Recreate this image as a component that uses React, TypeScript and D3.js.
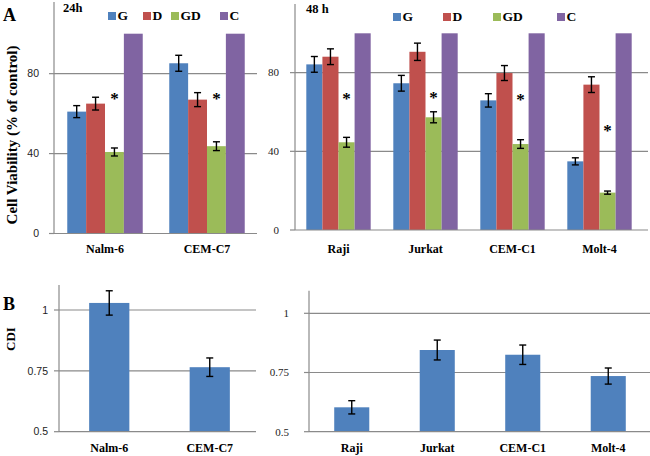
import React from "react";
import * as d3 from "d3";

const series = ["G", "D", "GD", "C"];
const colors = ["#4F81BD", "#C0504D", "#9BBB59", "#8064A2"];

const cats24 = ["Nalm-6", "CEM-C7"];
const vals24 = [
  [61, 65, 40.8, 100],
  [85.2, 67, 43.7, 100],
];
const errs24 = [
  [3, 3.2, 2, 0],
  [4, 3.5, 2.2, 0],
];
const star24 = [69.5, 69.5];

const cats48 = ["Raji", "Jurkat", "CEM-C1", "Molt-4"];
const vals48 = [
  [84.2, 88.1, 44.6, 100],
  [74.6, 90.6, 57.3, 100],
  [65.9, 79.8, 43.7, 100],
  [34.9, 73.9, 19, 100],
];
const errs48 = [
  [4, 4, 2.5, 0],
  [4, 4.4, 2.8, 0],
  [3.4, 3.8, 2.2, 0],
  [1.8, 4, 0.8, 0],
];
const star48 = [68.5, 69, 68.2, 52.5];

const ticksA = [0, 40, 80];
const ticksB = [0.5, 0.75, 1];
const tickLabelsB = ["0.5", "0.75", "1"];

const cdiCatsL = ["Nalm-6", "CEM-C7"];
const cdiValsL = [1.029, 0.765];
const cdiErrsL = [0.05, 0.038];

const cdiCatsR = ["Raji", "Jurkat", "CEM-C1", "Molt-4"];
const cdiValsR = [0.603, 0.845, 0.825, 0.735];
const cdiErrsR = [0.028, 0.042, 0.041, 0.034];

const SERIF = "'Liberation Serif', 'Times New Roman', serif";
const SANS = "'Liberation Sans', Arial, sans-serif";
const GRID = "#8a8a8a";

type GroupedProps = {
  cats: string[];
  vals: number[][];
  errs: number[][];
  stars: number[];
  x0: number;
  x1: number;
  gridEnd: number;
  yBase: number;
  y100: number;
  axisTop: number;
  tickFont: string;
  tickEnd: number;
  tickSize: number;
  title: string;
  titleX: number;
  titleY: number;
  legendX: number[];
  legendY: number;
};

function Grouped(p: GroupedProps) {
  const x = d3
    .scaleBand<string>()
    .domain(p.cats)
    .range([p.x0, p.x1])
    .paddingInner(0.26)
    .paddingOuter(0.13);
  const xs = d3.scaleBand<string>().domain(series).range([0, x.bandwidth()]);
  const y = d3.scaleLinear().domain([0, 100]).range([p.yBase, p.y100]);
  return (
    <g>
      {ticksA.filter((t) => t > 0).map((t) => (
        <line key={"g" + t} x1={p.x0} x2={p.gridEnd} y1={y(t)} y2={y(t)} stroke={GRID} strokeWidth={1.2} />
      ))}
      {p.cats.map((c, i) =>
        series.map((s, j) => {
          const v = p.vals[i][j];
          const e = p.errs[i][j];
          const bx = (x(c) as number) + (xs(s) as number);
          const cx = bx + xs.bandwidth() / 2;
          return (
            <g key={c + s}>
              <rect x={bx} y={y(v)} width={xs.bandwidth()} height={p.yBase - y(v)} fill={colors[j]} />
              {e > 0 && (
                <g stroke="#000" strokeWidth={1.4}>
                  <line x1={cx} x2={cx} y1={y(v + e)} y2={y(v - e)} />
                  <line x1={cx - 3.5} x2={cx + 3.5} y1={y(v + e)} y2={y(v + e)} />
                  <line x1={cx - 3.5} x2={cx + 3.5} y1={y(v - e)} y2={y(v - e)} />
                </g>
              )}
            </g>
          );
        })
      )}
      {p.cats.map((c, i) => {
        const cx = (x(c) as number) + (xs("GD") as number) + xs.bandwidth() / 2;
        return (
          <text key={"s" + c} x={cx} y={y(p.stars[i]) + 9} textAnchor="middle" fontFamily={SERIF} fontWeight="bold" fontSize={17}>
            *
          </text>
        );
      })}
      <line x1={p.x0} x2={p.gridEnd} y1={p.yBase} y2={p.yBase} stroke={GRID} strokeWidth={1.2} />
      <line x1={p.x0} x2={p.x0} y1={p.axisTop} y2={p.yBase} stroke={GRID} strokeWidth={1.2} />
      {ticksA.map((t) => (
        <g key={"t" + t}>
          <line x1={p.x0 - 5} x2={p.x0} y1={y(t)} y2={y(t)} stroke={GRID} strokeWidth={1.2} />
          <text x={p.tickEnd} y={y(t)} dy="0.35em" textAnchor="end" fontFamily={p.tickFont} fontSize={p.tickSize} fill="#222">
            {t}
          </text>
        </g>
      ))}
      {p.cats.map((c) => (
        <text key={"c" + c} x={(x(c) as number) + x.bandwidth() / 2} y={253} textAnchor="middle" fontFamily={SERIF} fontWeight="bold" fontSize={12}>
          {c}
        </text>
      ))}
      <text x={p.titleX} y={p.titleY} fontFamily={SERIF} fontWeight="bold" fontSize={12.5}>
        {p.title}
      </text>
      {series.map((s, j) => (
        <g key={"l" + s}>
          <rect x={p.legendX[j]} y={p.legendY - 8} width={8} height={8} fill={colors[j]} />
          <text x={p.legendX[j] + 9.5} y={p.legendY} fontFamily={SERIF} fontWeight="bold" fontSize={13.5}>
            {s}
          </text>
        </g>
      ))}
    </g>
  );
}

type CdiProps = {
  cats: string[];
  vals: number[];
  errs: number[];
  x0: number;
  x1: number;
  gridEnd: number;
  yBase: number;
  y1: number;
  axisTop: number;
  tickFont: string;
  tickEnd: number;
  tickSize: number;
  barFrac: number;
};

function Cdi(p: CdiProps) {
  const x = d3
    .scaleBand<string>()
    .domain(p.cats)
    .range([p.x0, p.x1])
    .paddingInner(1 - p.barFrac)
    .paddingOuter((1 - p.barFrac) / 2);
  const y = d3.scaleLinear().domain([0.5, 1]).range([p.yBase, p.y1]);
  return (
    <g>
      {ticksB.filter((t) => t > 0.5).map((t) => (
        <line key={"g" + t} x1={p.x0} x2={p.gridEnd} y1={y(t)} y2={y(t)} stroke={GRID} strokeWidth={1.2} />
      ))}
      {p.cats.map((c, i) => {
        const v = p.vals[i];
        const e = p.errs[i];
        const bx = x(c) as number;
        const cx = bx + x.bandwidth() / 2;
        return (
          <g key={c}>
            <rect x={bx} y={y(v)} width={x.bandwidth()} height={p.yBase - y(v)} fill={colors[0]} />
            <g stroke="#000" strokeWidth={1.4}>
              <line x1={cx} x2={cx} y1={y(v + e)} y2={y(v - e)} />
              <line x1={cx - 3.5} x2={cx + 3.5} y1={y(v + e)} y2={y(v + e)} />
              <line x1={cx - 3.5} x2={cx + 3.5} y1={y(v - e)} y2={y(v - e)} />
            </g>
            <text x={cx} y={452} textAnchor="middle" fontFamily={SERIF} fontWeight="bold" fontSize={12}>
              {c}
            </text>
          </g>
        );
      })}
      <line x1={p.x0} x2={p.gridEnd} y1={p.yBase} y2={p.yBase} stroke={GRID} strokeWidth={1.2} />
      <line x1={p.x0} x2={p.x0} y1={p.axisTop} y2={p.yBase} stroke={GRID} strokeWidth={1.2} />
      {ticksB.map((t, i) => (
        <g key={"t" + t}>
          <line x1={p.x0 - 5} x2={p.x0} y1={y(t)} y2={y(t)} stroke={GRID} strokeWidth={1.2} />
          <text x={p.tickEnd} y={y(t)} dy="0.35em" textAnchor="end" fontFamily={p.tickFont} fontSize={p.tickSize} fill="#222">
            {tickLabelsB[i]}
          </text>
        </g>
      ))}
    </g>
  );
}

export default function App() {
  return (
    <svg width={650} height={456} style={{ position: "absolute", left: 0, top: 0, background: "#fff" }}>
      <rect width={650} height={456} fill="#fff" />
      <text x={3} y={21} fontFamily={SERIF} fontWeight="bold" fontSize={18}>A</text>
      <text x={3} y={310} fontFamily={SERIF} fontWeight="bold" fontSize={18}>B</text>
      <text transform="translate(12,135) rotate(-90)" textAnchor="middle" dy="0.35em" fontFamily={SERIF} fontWeight="bold" fontSize={15}>
        Cell Viability (% of control)
      </text>
      <text transform="translate(10,339) rotate(-90)" textAnchor="middle" dy="0.35em" fontFamily={SERIF} fontWeight="bold" fontSize={13}>
        CDI
      </text>
      <Grouped
        cats={cats24}
        vals={vals24}
        errs={errs24}
        stars={star24}
        x0={54}
        x1={258}
        gridEnd={257}
        yBase={233.5}
        y100={33.7}
        axisTop={2}
        tickFont={SANS}
        tickEnd={39}
        tickSize={10.5}
        title="24h"
        titleX={63}
        titleY={12}
        legendX={[108, 143, 171, 220]}
        legendY={20}
      />
      <Grouped
        cats={cats48}
        vals={vals48}
        errs={errs48}
        stars={star48}
        x0={295}
        x1={643}
        gridEnd={648}
        yBase={230}
        y100={33.3}
        axisTop={4}
        tickFont={SERIF}
        tickEnd={279}
        tickSize={11}
        title="48 h"
        titleX={306}
        titleY={13}
        legendX={[393, 443, 493, 557]}
        legendY={21}
      />
      <Cdi
        cats={cdiCatsL}
        vals={cdiValsL}
        errs={cdiErrsL}
        x0={59}
        x1={260}
        gridEnd={256}
        yBase={431.7}
        y1={310}
        axisTop={285}
        tickFont={SANS}
        tickEnd={48}
        tickSize={10.5}
        barFrac={0.4}
      />
      <Cdi
        cats={cdiCatsR}
        vals={cdiValsR}
        errs={cdiErrsR}
        x0={309}
        x1={651}
        gridEnd={650}
        yBase={431.7}
        y1={313.3}
        axisTop={290.7}
        tickFont={SERIF}
        tickEnd={289}
        tickSize={11}
        barFrac={0.41}
      />
    </svg>
  );
}
